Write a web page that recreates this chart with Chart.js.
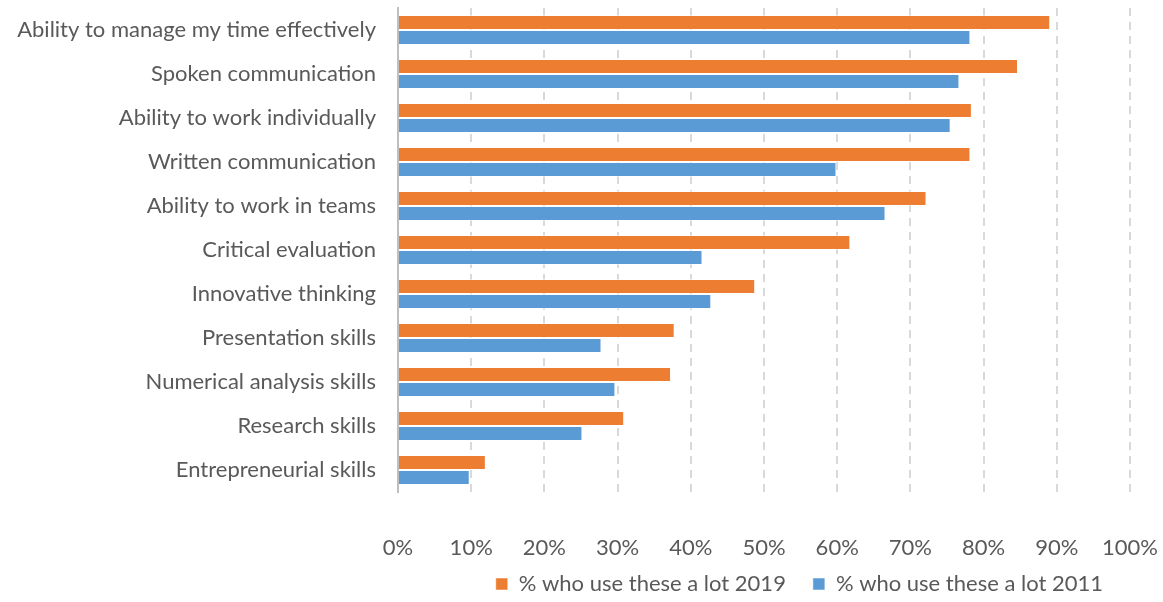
<!DOCTYPE html>
<html>
<head>
<meta charset="utf-8">
<script src="https://cdn.jsdelivr.net/npm/chart.js@4/dist/chart.umd.min.js"></script>
<style>
  html, body { margin: 0; padding: 0; background: #fff; }
  #wrap { width: 1163px; height: 602px; }
</style>
</head>
<body>
<div id="wrap"><canvas id="skills"></canvas></div>
<script>
const skills = [
  'Ability to manage my time effectively',
  'Spoken communication',
  'Ability to work individually',
  'Written communication',
  'Ability to work in teams',
  'Critical evaluation',
  'Innovative thinking',
  'Presentation skills',
  'Numerical analysis skills',
  'Research skills',
  'Entrepreneurial skills'
];
const lot2019 = [89.1, 84.7, 78.4, 78.2, 72.2, 61.8, 48.8, 37.8, 37.3, 30.9, 12.0];
const lot2011 = [78.2, 76.7, 75.5, 59.9, 66.6, 41.6, 42.8, 27.8, 29.7, 25.2, 9.8];
const seriesNames = ['% who use these a lot 2019', '% who use these a lot 2011'];

const fontFamily = 'Lato, "Open Sans", sans-serif';
const textGrey = '#595959';

// the % labels sit well below the x axis box, so let them draw past it
const tickSpill = {
  id: 'tickSpill',
  afterLayout(chart) {
    chart.scales.x.bottom = chart.height;
  }
};

new Chart(document.getElementById('skills'), {
  type: 'bar',
  data: {
    labels: skills,
    datasets: [{
      label: seriesNames[0],
      data: lot2019,
      backgroundColor: '#ED7D31',
      borderColor: 'rgba(255,255,255,0.5)',
      borderWidth: 1,
      categoryPercentage: 0.68,
      barPercentage: 1.0
    }, {
      label: seriesNames[1],
      data: lot2011,
      backgroundColor: '#5B9BD5',
      borderColor: 'rgba(255,255,255,0.5)',
      borderWidth: 1,
      categoryPercentage: 0.68,
      barPercentage: 1.0
    }]
  },
  plugins: [tickSpill],
  options: {
    indexAxis: 'y',
    responsive: true,
    maintainAspectRatio: false,
    animation: false,
    layout: { padding: { top: 8, right: 33, left: 0, bottom: -3 } },
    plugins: {
      tooltip: { enabled: false },
      legend: {
        position: 'bottom',
        align: 'end',
        labels: {
          font: { family: fontFamily, size: 22 },
          color: textGrey,
          boxWidth: 12,
          boxHeight: 12,
          padding: 27
        }
      }
    },
    scales: {
      x: {
        min: 0,
        max: 100,
        ticks: {
          stepSize: 10,
          padding: 43,
          color: textGrey,
          font: { family: fontFamily, size: 22 },
          callback: v => v + '%'
        },
        grid: {
          color: '#d9d9d9',
          lineWidth: 2,
          drawTicks: false
        },
        border: { display: false, dash: [8, 6] },
        afterFit: scale => {
          scale.height = 54;
          scale.paddingLeft = 0;
          scale.paddingRight = 0;
        }
      },
      y: {
        ticks: {
          padding: 22,
          color: textGrey,
          font: { family: fontFamily, size: 22 }
        },
        grid: { display: false, drawTicks: false },
        border: { display: true, color: '#bfbfbf', width: 2 },
        afterFit: scale => {
          scale.width = 398;
          scale.paddingTop = 0;
          scale.paddingBottom = 0;
        }
      }
    }
  }
});
</script>
</body>
</html>
